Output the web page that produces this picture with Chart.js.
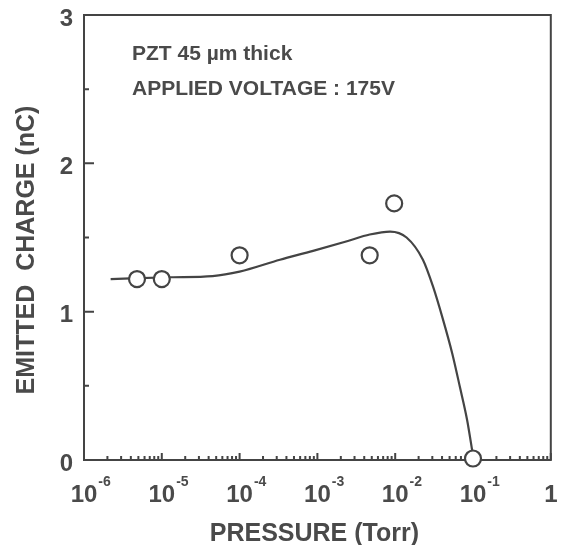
<!DOCTYPE html>
<html>
<head>
<meta charset="utf-8">
<script src="https://cdn.jsdelivr.net/npm/chart.js@4"></script>
<style>
  html, body { margin: 0; padding: 0; background: #fff; }
  #c { display: block; }
</style>
</head>
<body>
<canvas id="c" width="561" height="545"></canvas>
<script>
// ---- data ----
const measuredPressure = [4.8e-6, 1.0e-5, 1.0e-4, 4.7e-3, 9.7e-3, 1.0e-1];
const measuredCharge   = [1.22, 1.22, 1.38, 1.38, 1.73, 0.01];

const fitPressure = [2.2e-6, 1.3e-5, 4.5e-5, 1.0e-4, 3.3e-4, 8.8e-4, 2.4e-3, 4.7e-3, 8.6e-3, 1.4e-2, 2.27e-2, 3.06e-2, 4.1e-2, 5.4e-2, 6.8e-2, 8.4e-2, 1.0e-1];
const fitCharge   = [1.22, 1.232, 1.24, 1.27, 1.35, 1.41, 1.475, 1.52, 1.54, 1.50, 1.35, 1.17, 0.95, 0.72, 0.49, 0.27, 0.03];

const xDecadeExponents = [-6, -5, -4, -3, -2, -1, 0];
const yMajorTicks = [0, 1, 2, 3];
const yMinorTicks = [0.5, 1.5, 2.5];
const yTickLabels = ['0', '1', '2', '3'];
const annotationLines = ['PZT 45 \u00b5m thick', 'APPLIED VOLTAGE : 175V'];
const xTitle = 'PRESSURE (Torr)';
const yTitle = 'EMITTED  CHARGE (nC)';

const INK = '#444';
const TEXT = '#4a4a4a';
const FONT = '"Liberation Sans", Arial, Helvetica, sans-serif';

const framePlugin = {
  id: 'frame',
  beforeDatasetsDraw(chart) {
    const { ctx, chartArea: a, scales } = chart;
    const xs = scales.x, ys = scales.y;
    ctx.save();
    ctx.strokeStyle = INK;
    ctx.lineWidth = 2;
    ctx.strokeRect(a.left, a.top, a.right - a.left, a.bottom - a.top);
    // y ticks (inward from left)
    ctx.lineWidth = 2;
    ctx.beginPath();
    yMajorTicks.forEach(v => {
      const y = ys.getPixelForValue(v);
      ctx.moveTo(a.left, y); ctx.lineTo(a.left + 10, y);
    });
    yMinorTicks.forEach(v => {
      const y = ys.getPixelForValue(v);
      ctx.moveTo(a.left, y); ctx.lineTo(a.left + 5, y);
    });
    // x ticks (inward from bottom)
    for (let i = 0; i < xDecadeExponents.length - 1; i++) {
      const base = Math.pow(10, xDecadeExponents[i]);
      for (let m = 2; m <= 10; m++) {
        const x = xs.getPixelForValue(base * m);
        const len = (m === 10) ? 7 : 4;
        ctx.moveTo(x, a.bottom); ctx.lineTo(x, a.bottom - len);
      }
    }
    ctx.stroke();

    // y tick labels
    ctx.fillStyle = TEXT;
    ctx.font = 'bold 24px ' + FONT;
    ctx.textAlign = 'right';
    ctx.textBaseline = 'middle';
    yMajorTicks.forEach((v, i) => {
      ctx.fillText(yTickLabels[i], 73, ys.getPixelForValue(v) + 4);
    });

    // x tick labels
    ctx.textBaseline = 'alphabetic';
    xDecadeExponents.forEach(e => {
      const x = xs.getPixelForValue(Math.pow(10, e));
      if (e === 0) {
        ctx.font = 'bold 24px ' + FONT;
        ctx.textAlign = 'center';
        ctx.fillText('1', x, 502);
      } else {
        ctx.font = 'bold 24px ' + FONT;
        ctx.textAlign = 'center';
        ctx.fillText('10', x, 502);
        const w = ctx.measureText('10').width;
        ctx.font = 'bold 14px ' + FONT;
        ctx.textAlign = 'left';
        ctx.fillText(String(e), x + w / 2 + 1, 486);
      }
    });

    // axis titles
    ctx.font = 'bold 25px ' + FONT;
    ctx.textAlign = 'center';
    ctx.fillText(xTitle, (a.left + a.right) / 2 - 3, 541);
    ctx.save();
    ctx.translate(34, 250);
    ctx.rotate(-Math.PI / 2);
    ctx.fillText(yTitle, 0, 0);
    ctx.restore();

    // annotation
    ctx.font = 'bold 21px ' + FONT;
    ctx.textAlign = 'left';
    ctx.fillText(annotationLines[0], 132, 60);
    ctx.fillText(annotationLines[1], 132, 95);
    ctx.restore();
  }
};

new Chart(document.getElementById('c'), {
  type: 'scatter',
  data: {
    datasets: [
      {
        label: 'measured',
        data: measuredPressure.map((p, i) => ({ x: p, y: measuredCharge[i] })),
        pointRadius: 8,
        pointHoverRadius: 8,
        pointBackgroundColor: '#fff',
        pointBorderColor: INK,
        pointBorderWidth: 2.2,
        showLine: false,
        clip: false,
        order: 0
      },
      {
        label: 'fit',
        data: fitPressure.map((p, i) => ({ x: p, y: fitCharge[i] })),
        showLine: true,
        borderColor: INK,
        borderWidth: 2.2,
        pointRadius: 0,
        cubicInterpolationMode: 'monotone',
        fill: false,
        clip: false,
        order: 1
      }
    ]
  },
  options: {
    responsive: false,
    animation: false,
    events: [],
    layout: { padding: { left: 84, right: 9, top: 15, bottom: 85 } },
    plugins: { legend: { display: false }, tooltip: { enabled: false } },
    scales: {
      x: { type: 'logarithmic', min: 1e-6, max: 1, display: false },
      y: { type: 'linear', min: 0, max: 3, display: false }
    }
  },
  plugins: [framePlugin]
});
</script>
</body>
</html>
